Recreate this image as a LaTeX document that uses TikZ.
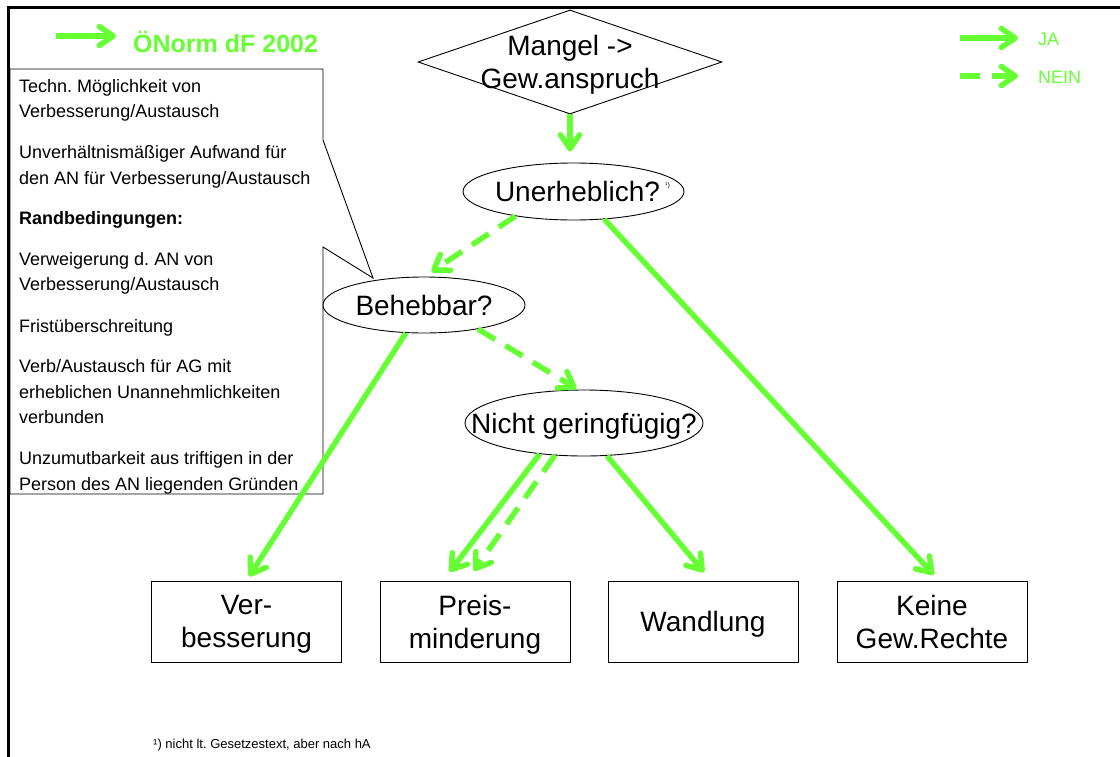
\documentclass[tikz,border=0pt]{standalone}
\usepackage{fontspec}
\setmainfont{Liberation Sans}
\usetikzlibrary{shapes.geometric,arrows.meta}
\definecolor{okgreen}{RGB}{102,255,51}
\newcommand\flowfont{\fontsize{28}{33}\selectfont}
\newcommand\notefont{\fontsize{18}{25.5}\selectfont}
\newcommand\legendfont{\fontsize{18}{22}\selectfont}
\frenchspacing

\begin{document}
\begin{tikzpicture}[x=1pt,y=-1pt,
  outline/.style={draw=black,line width=0.9pt,fill=white,inner sep=0pt},
  question/.style={outline,ellipse,font=\flowfont,text depth=0pt},
  result/.style={outline,rectangle,minimum width=190pt,minimum height=81pt,
    align=center,font=\flowfont,text depth=0pt},
  yes/.style={draw=okgreen,line width=5.5pt,
    -{Straight Barb[length=14pt,width=19pt,round]}},
  no/.style={yes,dash pattern=on 20pt off 12pt},
  greentext/.style={text=okgreen,inner sep=0pt,anchor=base west}]

\useasboundingbox (0,0) rectangle (1120,756);

% callout with the conditions
\draw[draw=black,line width=0.9pt,fill=white]
  (10,69) -- (323,69) -- (323,140) -- (373,278) -- (323,247)
  -- (323,494) -- (10,494) -- cycle;
\node[anchor=north west,inner sep=0pt,align=left,font=\notefont] (notes) at (19,79)
  {Techn. Möglichkeit von\\Verbesserung/Austausch\\[15.5pt]
   Unverhältnismäßiger Aufwand für\\den AN für Verbesserung/Austausch\\[15pt]
   \textbf{Randbedingungen:}\\[15pt]
   Verweigerung d. AN von\\Verbesserung/Austausch\\[16pt]
   Fristüberschreitung\\[15pt]
   Verb/Austausch für AG mit\\erheblichen Unannehmlichkeiten\\verbunden\\[15.5pt]
   Unzumutbarkeit aus triftigen in der\\Person des AN liegenden Gründen};

% page frame
\draw[line width=2.5pt] (8.5,760) -- (8.5,7.5) -- (1125,7.5);

% decision nodes
\node[outline,diamond,minimum width=304pt,minimum height=104pt,font=\flowfont]
  (mangel) at (570,62)
  {\makebox[0pt]{\raisebox{-10pt}[0pt][0pt]{\begin{tabular}{@{}c@{}}Mangel ->\\Gew.anspruch\end{tabular}}}};
\node[question,minimum width=221pt,minimum height=57pt] (unerh) at (573.5,191.5)
  {\makebox[0pt]{\hspace{8pt}Unerheblich?}};
\node[inner sep=0pt,anchor=west,font=\fontsize{7}{8}\selectfont] (fnmark) at (665,186) {¹)};
\node[question,minimum width=202pt,minimum height=56pt] (beheb) at (424,305)
  {\makebox[0pt]{Behebbar?}};
\node[question,minimum width=238pt,minimum height=66pt] (nicht) at (584,423)
  {\makebox[0pt]{Nicht geringfügig?}};

% outcomes
\node[result] (verb)  at (246.5,621.5) {Ver-\\besserung};
\node[result] (preis) at (475,621.5)   {Preis-\\minderung};
\node[result] (wand)  at (703,621.5)   {Wandlung};
\node[result] (keine) at (932,621.5)   {Keine\\Gew.Rechte};

% flow connectors
\draw[yes,shorten >=11pt] (mangel.south) -- (mangel.south |- unerh.north);
\draw[no,shorten >=9pt]  (unerh.203) -- (beheb.north);
\draw[yes,shorten >=8pt] (unerh.318) -- (keine.80);
\draw[yes,shorten >=5pt] (beheb.237) -- (verb.north);
\draw[no,shorten >=2pt]  (beheb.336) -- (nicht.100);
\draw[yes,shorten >=11pt] (nicht.215) -- (preis.128);
\draw[no,shorten >=12pt]  (nicht.228) -- (preis.101);
\draw[yes,shorten >=11pt] (nicht.305) -- (wand.79);

% legend
\coordinate (normA) at (56,36);  \coordinate (normB) at (116,36);
\coordinate (jaA)   at (960,38); \coordinate (jaB)   at (1018,38);
\coordinate (neinA) at (960,76); \coordinate (neinB) at (1018,76);
\draw[yes] (normA) -- (normB);
\draw[yes] (jaA) -- (jaB);
\draw[no]  (neinA) -- (neinB);
\node[greentext,font=\bfseries\fontsize{25}{30}\selectfont] (norm) at (133,52) {ÖNorm dF 2002};
\node[greentext,font=\legendfont] (ja)   at (1038,45) {JA};
\node[greentext,font=\legendfont] (nein) at (1038,83) {NEIN};

% footnote
\node[inner sep=0pt,anchor=base west,font=\fontsize{13}{15}\selectfont] (footnote)
  at (153,748) {¹) nicht lt. Gesetzestext, aber nach hA};
\end{tikzpicture}
\end{document}
